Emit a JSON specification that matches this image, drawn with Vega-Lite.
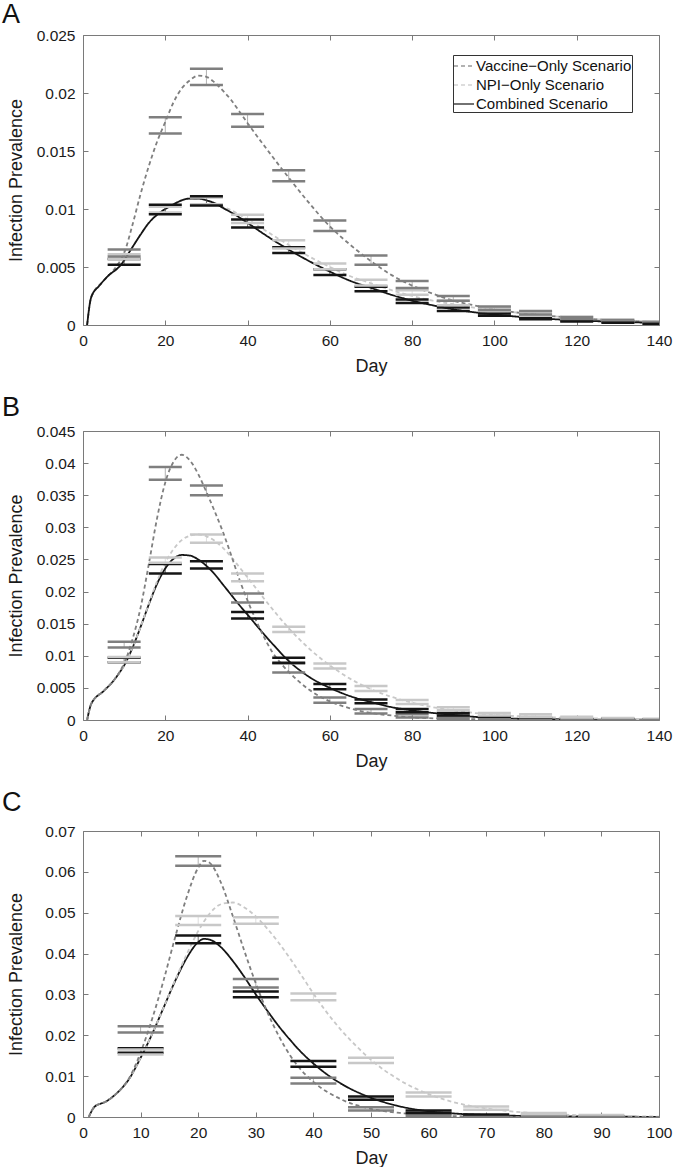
{
  "$schema": "https://vega.github.io/schema/vega-lite/v6.json",
  "background": "white",
  "padding": {"left": 1, "top": 0, "right": 0, "bottom": 0},
  "spacing": 17,
  "config": {
    "font": "Liberation Sans",
    "view": {"stroke": "#7a7a7a", "strokeWidth": 1},
    "axis": {"domain": false, "grid": false, "ticks": true, "tickSize": 5, "offset": -5, "tickColor": "#7a7a7a", "tickWidth": 1, "labelPadding": 8, "labelFontSize": 15.5, "labelColor": "#1a1a1a", "labelFont": "Liberation Sans", "labelFlush": false, "labelOverlap": false, "titleFontSize": 18, "titleFontWeight": "normal", "titleColor": "#1a1a1a", "titleFont": "Liberation Sans"},
    "axisX": {"titlePadding": 9},
    "axisY": {"titleX": -67, "titleBaseline": "alphabetic"},
    "tick": {"opacity": 1},
    "title": {"fontSize": 27, "fontWeight": "normal", "anchor": "start", "frame": "bounds", "color": "#111111", "font": "Liberation Sans"}
  },
  "resolve": {"scale": {"color": "independent", "strokeDash": "independent", "x": "independent", "y": "independent"}},
  "datasets": {
    "lineA": [
      {"scenario": "NPI−Only Scenario", "day": 1, "prev": 0}, {"scenario": "NPI−Only Scenario", "day": 2, "prev": 0.0024}, {"scenario": "NPI−Only Scenario", "day": 4, "prev": 0.0034}, {"scenario": "NPI−Only Scenario", "day": 6, "prev": 0.0042}, {"scenario": "NPI−Only Scenario", "day": 9, "prev": 0.0051}, {"scenario": "NPI−Only Scenario", "day": 12, "prev": 0.0067}, {"scenario": "NPI−Only Scenario", "day": 14, "prev": 0.0078}, {"scenario": "NPI−Only Scenario", "day": 16, "prev": 0.0088}, {"scenario": "NPI−Only Scenario", "day": 18, "prev": 0.0095}, {"scenario": "NPI−Only Scenario", "day": 20, "prev": 0.01}, {"scenario": "NPI−Only Scenario", "day": 22, "prev": 0.0104}, {"scenario": "NPI−Only Scenario", "day": 24, "prev": 0.01075}, {"scenario": "NPI−Only Scenario", "day": 26, "prev": 0.0109}, {"scenario": "NPI−Only Scenario", "day": 28, "prev": 0.0109}, {"scenario": "NPI−Only Scenario", "day": 30, "prev": 0.01075}, {"scenario": "NPI−Only Scenario", "day": 32, "prev": 0.0105}, {"scenario": "NPI−Only Scenario", "day": 34, "prev": 0.0102}, {"scenario": "NPI−Only Scenario", "day": 36, "prev": 0.0099}, {"scenario": "NPI−Only Scenario", "day": 40, "prev": 0.0091}, {"scenario": "NPI−Only Scenario", "day": 45, "prev": 0.008}, {"scenario": "NPI−Only Scenario", "day": 50, "prev": 0.0069}, {"scenario": "NPI−Only Scenario", "day": 55, "prev": 0.0059}, {"scenario": "NPI−Only Scenario", "day": 60, "prev": 0.005}, {"scenario": "NPI−Only Scenario", "day": 65, "prev": 0.0042}, {"scenario": "NPI−Only Scenario", "day": 70, "prev": 0.0036}, {"scenario": "NPI−Only Scenario", "day": 75, "prev": 0.003}, {"scenario": "NPI−Only Scenario", "day": 80, "prev": 0.0025}, {"scenario": "NPI−Only Scenario", "day": 85, "prev": 0.0021}, {"scenario": "NPI−Only Scenario", "day": 90, "prev": 0.0018}, {"scenario": "NPI−Only Scenario", "day": 95, "prev": 0.0015}, {"scenario": "NPI−Only Scenario", "day": 100, "prev": 0.0013}, {"scenario": "NPI−Only Scenario", "day": 110, "prev": 0.0009}, {"scenario": "NPI−Only Scenario", "day": 120, "prev": 0.0006}, {"scenario": "NPI−Only Scenario", "day": 130, "prev": 0.0004}, {"scenario": "NPI−Only Scenario", "day": 140, "prev": 0.0003},
      {"scenario": "Vaccine−Only Scenario", "day": 1, "prev": 0}, {"scenario": "Vaccine−Only Scenario", "day": 2, "prev": 0.0024}, {"scenario": "Vaccine−Only Scenario", "day": 5, "prev": 0.0038}, {"scenario": "Vaccine−Only Scenario", "day": 8, "prev": 0.005}, {"scenario": "Vaccine−Only Scenario", "day": 10, "prev": 0.0062}, {"scenario": "Vaccine−Only Scenario", "day": 12, "prev": 0.0086}, {"scenario": "Vaccine−Only Scenario", "day": 14, "prev": 0.0113}, {"scenario": "Vaccine−Only Scenario", "day": 16, "prev": 0.0137}, {"scenario": "Vaccine−Only Scenario", "day": 18, "prev": 0.0158}, {"scenario": "Vaccine−Only Scenario", "day": 20, "prev": 0.0175}, {"scenario": "Vaccine−Only Scenario", "day": 22, "prev": 0.0192}, {"scenario": "Vaccine−Only Scenario", "day": 24, "prev": 0.0204}, {"scenario": "Vaccine−Only Scenario", "day": 26, "prev": 0.0211}, {"scenario": "Vaccine−Only Scenario", "day": 28, "prev": 0.0215}, {"scenario": "Vaccine−Only Scenario", "day": 30, "prev": 0.0214}, {"scenario": "Vaccine−Only Scenario", "day": 32, "prev": 0.0209}, {"scenario": "Vaccine−Only Scenario", "day": 34, "prev": 0.0202}, {"scenario": "Vaccine−Only Scenario", "day": 36, "prev": 0.0194}, {"scenario": "Vaccine−Only Scenario", "day": 38, "prev": 0.0184}, {"scenario": "Vaccine−Only Scenario", "day": 40, "prev": 0.0174}, {"scenario": "Vaccine−Only Scenario", "day": 45, "prev": 0.015}, {"scenario": "Vaccine−Only Scenario", "day": 50, "prev": 0.0127}, {"scenario": "Vaccine−Only Scenario", "day": 55, "prev": 0.0105}, {"scenario": "Vaccine−Only Scenario", "day": 60, "prev": 0.0085}, {"scenario": "Vaccine−Only Scenario", "day": 65, "prev": 0.0069}, {"scenario": "Vaccine−Only Scenario", "day": 70, "prev": 0.0055}, {"scenario": "Vaccine−Only Scenario", "day": 75, "prev": 0.0043}, {"scenario": "Vaccine−Only Scenario", "day": 80, "prev": 0.0034}, {"scenario": "Vaccine−Only Scenario", "day": 85, "prev": 0.0027}, {"scenario": "Vaccine−Only Scenario", "day": 90, "prev": 0.0021}, {"scenario": "Vaccine−Only Scenario", "day": 95, "prev": 0.0017}, {"scenario": "Vaccine−Only Scenario", "day": 100, "prev": 0.00135}, {"scenario": "Vaccine−Only Scenario", "day": 110, "prev": 0.0009}, {"scenario": "Vaccine−Only Scenario", "day": 120, "prev": 0.0006}, {"scenario": "Vaccine−Only Scenario", "day": 130, "prev": 0.0004}, {"scenario": "Vaccine−Only Scenario", "day": 140, "prev": 0.00025},
      {"scenario": "Combined Scenario", "day": 1, "prev": 0}, {"scenario": "Combined Scenario", "day": 2, "prev": 0.0024}, {"scenario": "Combined Scenario", "day": 4, "prev": 0.0034}, {"scenario": "Combined Scenario", "day": 6, "prev": 0.0042}, {"scenario": "Combined Scenario", "day": 9, "prev": 0.0051}, {"scenario": "Combined Scenario", "day": 12, "prev": 0.0067}, {"scenario": "Combined Scenario", "day": 14, "prev": 0.0078}, {"scenario": "Combined Scenario", "day": 16, "prev": 0.0088}, {"scenario": "Combined Scenario", "day": 18, "prev": 0.0095}, {"scenario": "Combined Scenario", "day": 20, "prev": 0.01}, {"scenario": "Combined Scenario", "day": 22, "prev": 0.0104}, {"scenario": "Combined Scenario", "day": 24, "prev": 0.01075}, {"scenario": "Combined Scenario", "day": 26, "prev": 0.0109}, {"scenario": "Combined Scenario", "day": 28, "prev": 0.0109}, {"scenario": "Combined Scenario", "day": 30, "prev": 0.01075}, {"scenario": "Combined Scenario", "day": 32, "prev": 0.0105}, {"scenario": "Combined Scenario", "day": 34, "prev": 0.0101}, {"scenario": "Combined Scenario", "day": 37, "prev": 0.0095}, {"scenario": "Combined Scenario", "day": 40, "prev": 0.0088}, {"scenario": "Combined Scenario", "day": 45, "prev": 0.0076}, {"scenario": "Combined Scenario", "day": 50, "prev": 0.0065}, {"scenario": "Combined Scenario", "day": 55, "prev": 0.0055}, {"scenario": "Combined Scenario", "day": 60, "prev": 0.0046}, {"scenario": "Combined Scenario", "day": 65, "prev": 0.0038}, {"scenario": "Combined Scenario", "day": 70, "prev": 0.0032}, {"scenario": "Combined Scenario", "day": 75, "prev": 0.0026}, {"scenario": "Combined Scenario", "day": 80, "prev": 0.0021}, {"scenario": "Combined Scenario", "day": 85, "prev": 0.0017}, {"scenario": "Combined Scenario", "day": 90, "prev": 0.00135}, {"scenario": "Combined Scenario", "day": 95, "prev": 0.0011}, {"scenario": "Combined Scenario", "day": 100, "prev": 0.0009}, {"scenario": "Combined Scenario", "day": 110, "prev": 0.0006}, {"scenario": "Combined Scenario", "day": 120, "prev": 0.0004}, {"scenario": "Combined Scenario", "day": 130, "prev": 0.00027}, {"scenario": "Combined Scenario", "day": 140, "prev": 0.00018}
    ],
    "barA": [
      {"scenario": "NPI−Only Scenario", "day": 10, "lo": 0.0057, "hi": 0.0061}, {"scenario": "NPI−Only Scenario", "day": 20, "lo": 0.0097, "hi": 0.0102}, {"scenario": "NPI−Only Scenario", "day": 30, "lo": 0.0104, "hi": 0.011}, {"scenario": "NPI−Only Scenario", "day": 40, "lo": 0.0088, "hi": 0.0095}, {"scenario": "NPI−Only Scenario", "day": 50, "lo": 0.0066, "hi": 0.0073}, {"scenario": "NPI−Only Scenario", "day": 60, "lo": 0.0048, "hi": 0.0053}, {"scenario": "NPI−Only Scenario", "day": 70, "lo": 0.0034, "hi": 0.0039}, {"scenario": "NPI−Only Scenario", "day": 80, "lo": 0.0026, "hi": 0.003}, {"scenario": "NPI−Only Scenario", "day": 90, "lo": 0.0017, "hi": 0.0021}, {"scenario": "NPI−Only Scenario", "day": 100, "lo": 0.0012, "hi": 0.0015}, {"scenario": "NPI−Only Scenario", "day": 110, "lo": 0.0008, "hi": 0.0011}, {"scenario": "NPI−Only Scenario", "day": 120, "lo": 0.0005, "hi": 0.0007}, {"scenario": "NPI−Only Scenario", "day": 130, "lo": 0.0003, "hi": 0.0005}, {"scenario": "NPI−Only Scenario", "day": 140, "lo": 0.0002, "hi": 0.0003},
      {"scenario": "Vaccine−Only Scenario", "day": 10, "lo": 0.0059, "hi": 0.0065}, {"scenario": "Vaccine−Only Scenario", "day": 20, "lo": 0.0165, "hi": 0.0179}, {"scenario": "Vaccine−Only Scenario", "day": 30, "lo": 0.0207, "hi": 0.0221}, {"scenario": "Vaccine−Only Scenario", "day": 40, "lo": 0.0171, "hi": 0.0182}, {"scenario": "Vaccine−Only Scenario", "day": 50, "lo": 0.0124, "hi": 0.01335}, {"scenario": "Vaccine−Only Scenario", "day": 60, "lo": 0.0081, "hi": 0.009}, {"scenario": "Vaccine−Only Scenario", "day": 70, "lo": 0.0052, "hi": 0.006}, {"scenario": "Vaccine−Only Scenario", "day": 80, "lo": 0.0032, "hi": 0.0038}, {"scenario": "Vaccine−Only Scenario", "day": 90, "lo": 0.0021, "hi": 0.0025}, {"scenario": "Vaccine−Only Scenario", "day": 100, "lo": 0.0013, "hi": 0.0016}, {"scenario": "Vaccine−Only Scenario", "day": 110, "lo": 0.0009, "hi": 0.0012}, {"scenario": "Vaccine−Only Scenario", "day": 120, "lo": 0.0005, "hi": 0.0007}, {"scenario": "Vaccine−Only Scenario", "day": 130, "lo": 0.0003, "hi": 0.0004}, {"scenario": "Vaccine−Only Scenario", "day": 140, "lo": 0.0001, "hi": 0.00025},
      {"scenario": "Combined Scenario", "day": 10, "lo": 0.0052, "hi": 0.0057}, {"scenario": "Combined Scenario", "day": 20, "lo": 0.00955, "hi": 0.01036}, {"scenario": "Combined Scenario", "day": 30, "lo": 0.0103, "hi": 0.0111}, {"scenario": "Combined Scenario", "day": 40, "lo": 0.0084, "hi": 0.0091}, {"scenario": "Combined Scenario", "day": 50, "lo": 0.0062, "hi": 0.0067}, {"scenario": "Combined Scenario", "day": 60, "lo": 0.0043, "hi": 0.0048}, {"scenario": "Combined Scenario", "day": 70, "lo": 0.0029, "hi": 0.0033}, {"scenario": "Combined Scenario", "day": 80, "lo": 0.0019, "hi": 0.0022}, {"scenario": "Combined Scenario", "day": 90, "lo": 0.0012, "hi": 0.0015}, {"scenario": "Combined Scenario", "day": 100, "lo": 0.0008, "hi": 0.001}, {"scenario": "Combined Scenario", "day": 110, "lo": 0.0005, "hi": 0.0006}, {"scenario": "Combined Scenario", "day": 120, "lo": 0.0003, "hi": 0.0004}, {"scenario": "Combined Scenario", "day": 130, "lo": 0.0002, "hi": 0.0003}, {"scenario": "Combined Scenario", "day": 140, "lo": 0.0001, "hi": 0.0002}
    ],
    "lineB": [
      {"scenario": "Combined Scenario", "day": 1, "prev": 0}, {"scenario": "Combined Scenario", "day": 2, "prev": 0.0025}, {"scenario": "Combined Scenario", "day": 5, "prev": 0.0045}, {"scenario": "Combined Scenario", "day": 7, "prev": 0.0058}, {"scenario": "Combined Scenario", "day": 9, "prev": 0.0075}, {"scenario": "Combined Scenario", "day": 10, "prev": 0.0085}, {"scenario": "Combined Scenario", "day": 12, "prev": 0.0112}, {"scenario": "Combined Scenario", "day": 14, "prev": 0.0145}, {"scenario": "Combined Scenario", "day": 16, "prev": 0.018}, {"scenario": "Combined Scenario", "day": 18, "prev": 0.0212}, {"scenario": "Combined Scenario", "day": 20, "prev": 0.0236}, {"scenario": "Combined Scenario", "day": 22, "prev": 0.0251}, {"scenario": "Combined Scenario", "day": 24, "prev": 0.0257}, {"scenario": "Combined Scenario", "day": 26, "prev": 0.0256}, {"scenario": "Combined Scenario", "day": 28, "prev": 0.025}, {"scenario": "Combined Scenario", "day": 30, "prev": 0.024}, {"scenario": "Combined Scenario", "day": 32, "prev": 0.0227}, {"scenario": "Combined Scenario", "day": 34, "prev": 0.0211}, {"scenario": "Combined Scenario", "day": 36, "prev": 0.0195}, {"scenario": "Combined Scenario", "day": 38, "prev": 0.0179}, {"scenario": "Combined Scenario", "day": 40, "prev": 0.0164}, {"scenario": "Combined Scenario", "day": 43, "prev": 0.0141}, {"scenario": "Combined Scenario", "day": 46, "prev": 0.0119}, {"scenario": "Combined Scenario", "day": 50, "prev": 0.0092}, {"scenario": "Combined Scenario", "day": 55, "prev": 0.0067}, {"scenario": "Combined Scenario", "day": 60, "prev": 0.005}, {"scenario": "Combined Scenario", "day": 65, "prev": 0.0037}, {"scenario": "Combined Scenario", "day": 70, "prev": 0.0028}, {"scenario": "Combined Scenario", "day": 75, "prev": 0.002}, {"scenario": "Combined Scenario", "day": 80, "prev": 0.0015}, {"scenario": "Combined Scenario", "day": 85, "prev": 0.0011}, {"scenario": "Combined Scenario", "day": 90, "prev": 0.0008}, {"scenario": "Combined Scenario", "day": 95, "prev": 0.0005}, {"scenario": "Combined Scenario", "day": 100, "prev": 0.0003}, {"scenario": "Combined Scenario", "day": 110, "prev": 0.00015}, {"scenario": "Combined Scenario", "day": 120, "prev": 0.0001}, {"scenario": "Combined Scenario", "day": 130, "prev": 0.00005}, {"scenario": "Combined Scenario", "day": 140, "prev": 0.00003},
      {"scenario": "NPI−Only Scenario", "day": 1, "prev": 0}, {"scenario": "NPI−Only Scenario", "day": 2, "prev": 0.0025}, {"scenario": "NPI−Only Scenario", "day": 5, "prev": 0.0045}, {"scenario": "NPI−Only Scenario", "day": 7, "prev": 0.0058}, {"scenario": "NPI−Only Scenario", "day": 9, "prev": 0.0075}, {"scenario": "NPI−Only Scenario", "day": 10, "prev": 0.0085}, {"scenario": "NPI−Only Scenario", "day": 12, "prev": 0.0112}, {"scenario": "NPI−Only Scenario", "day": 14, "prev": 0.0145}, {"scenario": "NPI−Only Scenario", "day": 16, "prev": 0.0181}, {"scenario": "NPI−Only Scenario", "day": 18, "prev": 0.0216}, {"scenario": "NPI−Only Scenario", "day": 20, "prev": 0.0245}, {"scenario": "NPI−Only Scenario", "day": 22, "prev": 0.0266}, {"scenario": "NPI−Only Scenario", "day": 24, "prev": 0.028}, {"scenario": "NPI−Only Scenario", "day": 26, "prev": 0.0287}, {"scenario": "NPI−Only Scenario", "day": 28, "prev": 0.0289}, {"scenario": "NPI−Only Scenario", "day": 30, "prev": 0.0286}, {"scenario": "NPI−Only Scenario", "day": 32, "prev": 0.0279}, {"scenario": "NPI−Only Scenario", "day": 34, "prev": 0.0268}, {"scenario": "NPI−Only Scenario", "day": 36, "prev": 0.0254}, {"scenario": "NPI−Only Scenario", "day": 38, "prev": 0.0238}, {"scenario": "NPI−Only Scenario", "day": 40, "prev": 0.0222}, {"scenario": "NPI−Only Scenario", "day": 45, "prev": 0.0181}, {"scenario": "NPI−Only Scenario", "day": 50, "prev": 0.0143}, {"scenario": "NPI−Only Scenario", "day": 55, "prev": 0.0111}, {"scenario": "NPI−Only Scenario", "day": 60, "prev": 0.0085}, {"scenario": "NPI−Only Scenario", "day": 65, "prev": 0.0064}, {"scenario": "NPI−Only Scenario", "day": 70, "prev": 0.0048}, {"scenario": "NPI−Only Scenario", "day": 75, "prev": 0.0036}, {"scenario": "NPI−Only Scenario", "day": 80, "prev": 0.0027}, {"scenario": "NPI−Only Scenario", "day": 85, "prev": 0.002}, {"scenario": "NPI−Only Scenario", "day": 90, "prev": 0.0015}, {"scenario": "NPI−Only Scenario", "day": 95, "prev": 0.0011}, {"scenario": "NPI−Only Scenario", "day": 100, "prev": 0.0008}, {"scenario": "NPI−Only Scenario", "day": 110, "prev": 0.0005}, {"scenario": "NPI−Only Scenario", "day": 120, "prev": 0.0003}, {"scenario": "NPI−Only Scenario", "day": 130, "prev": 0.0002}, {"scenario": "NPI−Only Scenario", "day": 140, "prev": 0.0001},
      {"scenario": "Vaccine−Only Scenario", "day": 1, "prev": 0}, {"scenario": "Vaccine−Only Scenario", "day": 2, "prev": 0.0025}, {"scenario": "Vaccine−Only Scenario", "day": 5, "prev": 0.0045}, {"scenario": "Vaccine−Only Scenario", "day": 7, "prev": 0.0058}, {"scenario": "Vaccine−Only Scenario", "day": 9, "prev": 0.0076}, {"scenario": "Vaccine−Only Scenario", "day": 10, "prev": 0.0088}, {"scenario": "Vaccine−Only Scenario", "day": 12, "prev": 0.0125}, {"scenario": "Vaccine−Only Scenario", "day": 14, "prev": 0.0175}, {"scenario": "Vaccine−Only Scenario", "day": 16, "prev": 0.0243}, {"scenario": "Vaccine−Only Scenario", "day": 18, "prev": 0.0314}, {"scenario": "Vaccine−Only Scenario", "day": 20, "prev": 0.037}, {"scenario": "Vaccine−Only Scenario", "day": 22, "prev": 0.0402}, {"scenario": "Vaccine−Only Scenario", "day": 24, "prev": 0.0413}, {"scenario": "Vaccine−Only Scenario", "day": 26, "prev": 0.0404}, {"scenario": "Vaccine−Only Scenario", "day": 28, "prev": 0.0383}, {"scenario": "Vaccine−Only Scenario", "day": 30, "prev": 0.0355}, {"scenario": "Vaccine−Only Scenario", "day": 32, "prev": 0.0325}, {"scenario": "Vaccine−Only Scenario", "day": 34, "prev": 0.0293}, {"scenario": "Vaccine−Only Scenario", "day": 36, "prev": 0.0257}, {"scenario": "Vaccine−Only Scenario", "day": 38, "prev": 0.0219}, {"scenario": "Vaccine−Only Scenario", "day": 40, "prev": 0.0186}, {"scenario": "Vaccine−Only Scenario", "day": 42, "prev": 0.0156}, {"scenario": "Vaccine−Only Scenario", "day": 44, "prev": 0.0129}, {"scenario": "Vaccine−Only Scenario", "day": 46, "prev": 0.0106}, {"scenario": "Vaccine−Only Scenario", "day": 48, "prev": 0.0089}, {"scenario": "Vaccine−Only Scenario", "day": 50, "prev": 0.0075}, {"scenario": "Vaccine−Only Scenario", "day": 55, "prev": 0.0047}, {"scenario": "Vaccine−Only Scenario", "day": 60, "prev": 0.0029}, {"scenario": "Vaccine−Only Scenario", "day": 65, "prev": 0.0018}, {"scenario": "Vaccine−Only Scenario", "day": 70, "prev": 0.0011}, {"scenario": "Vaccine−Only Scenario", "day": 75, "prev": 0.0007}, {"scenario": "Vaccine−Only Scenario", "day": 80, "prev": 0.0004}, {"scenario": "Vaccine−Only Scenario", "day": 90, "prev": 0.0002}, {"scenario": "Vaccine−Only Scenario", "day": 100, "prev": 0.0001}, {"scenario": "Vaccine−Only Scenario", "day": 120, "prev": 0.00003}, {"scenario": "Vaccine−Only Scenario", "day": 140, "prev": 0}
    ],
    "barB": [
      {"scenario": "Combined Scenario", "day": 10, "lo": 0.009, "hi": 0.0097}, {"scenario": "Combined Scenario", "day": 20, "lo": 0.0228, "hi": 0.0243}, {"scenario": "Combined Scenario", "day": 30, "lo": 0.0236, "hi": 0.0247}, {"scenario": "Combined Scenario", "day": 40, "lo": 0.0158, "hi": 0.0168}, {"scenario": "Combined Scenario", "day": 50, "lo": 0.0089, "hi": 0.0097}, {"scenario": "Combined Scenario", "day": 60, "lo": 0.0048, "hi": 0.0056}, {"scenario": "Combined Scenario", "day": 70, "lo": 0.0026, "hi": 0.0032}, {"scenario": "Combined Scenario", "day": 80, "lo": 0.0012, "hi": 0.0017}, {"scenario": "Combined Scenario", "day": 90, "lo": 0.0007, "hi": 0.0011}, {"scenario": "Combined Scenario", "day": 100, "lo": 0.0004, "hi": 0.0006}, {"scenario": "Combined Scenario", "day": 110, "lo": 0.0002, "hi": 0.0004}, {"scenario": "Combined Scenario", "day": 120, "lo": 0.0001, "hi": 0.0002}, {"scenario": "Combined Scenario", "day": 130, "lo": 0.0001, "hi": 0.0002}, {"scenario": "Combined Scenario", "day": 140, "lo": 0.00005, "hi": 0.0001},
      {"scenario": "NPI−Only Scenario", "day": 10, "lo": 0.009, "hi": 0.0098}, {"scenario": "NPI−Only Scenario", "day": 20, "lo": 0.0245, "hi": 0.0253}, {"scenario": "NPI−Only Scenario", "day": 30, "lo": 0.0276, "hi": 0.0289}, {"scenario": "NPI−Only Scenario", "day": 40, "lo": 0.0216, "hi": 0.0228}, {"scenario": "NPI−Only Scenario", "day": 50, "lo": 0.0137, "hi": 0.01453}, {"scenario": "NPI−Only Scenario", "day": 60, "lo": 0.008, "hi": 0.0088}, {"scenario": "NPI−Only Scenario", "day": 70, "lo": 0.0045, "hi": 0.0053}, {"scenario": "NPI−Only Scenario", "day": 80, "lo": 0.0025, "hi": 0.0031}, {"scenario": "NPI−Only Scenario", "day": 90, "lo": 0.0015, "hi": 0.002}, {"scenario": "NPI−Only Scenario", "day": 100, "lo": 0.0007, "hi": 0.0011}, {"scenario": "NPI−Only Scenario", "day": 110, "lo": 0.0005, "hi": 0.0009}, {"scenario": "NPI−Only Scenario", "day": 120, "lo": 0.0003, "hi": 0.0005}, {"scenario": "NPI−Only Scenario", "day": 130, "lo": 0.0001, "hi": 0.0003}, {"scenario": "NPI−Only Scenario", "day": 140, "lo": 0.0001, "hi": 0.0002},
      {"scenario": "Vaccine−Only Scenario", "day": 10, "lo": 0.0113, "hi": 0.0122}, {"scenario": "Vaccine−Only Scenario", "day": 20, "lo": 0.0374, "hi": 0.0394}, {"scenario": "Vaccine−Only Scenario", "day": 30, "lo": 0.035, "hi": 0.0365}, {"scenario": "Vaccine−Only Scenario", "day": 40, "lo": 0.0183, "hi": 0.0197}, {"scenario": "Vaccine−Only Scenario", "day": 50, "lo": 0.0074, "hi": 0.0088}, {"scenario": "Vaccine−Only Scenario", "day": 60, "lo": 0.0027, "hi": 0.0035}, {"scenario": "Vaccine−Only Scenario", "day": 70, "lo": 0.001, "hi": 0.0017}, {"scenario": "Vaccine−Only Scenario", "day": 80, "lo": 0.0004, "hi": 0.0009}, {"scenario": "Vaccine−Only Scenario", "day": 90, "lo": 0.0002, "hi": 0.0005}, {"scenario": "Vaccine−Only Scenario", "day": 100, "lo": 0.0001, "hi": 0.0003}, {"scenario": "Vaccine−Only Scenario", "day": 110, "lo": 0.00005, "hi": 0.0002}, {"scenario": "Vaccine−Only Scenario", "day": 120, "lo": 0, "hi": 0.0001}, {"scenario": "Vaccine−Only Scenario", "day": 130, "lo": 0, "hi": 0.00005}, {"scenario": "Vaccine−Only Scenario", "day": 140, "lo": 0, "hi": 0.00003}
    ],
    "lineC": [
      {"scenario": "Combined Scenario", "day": 1, "prev": 0}, {"scenario": "Combined Scenario", "day": 2, "prev": 0.0025}, {"scenario": "Combined Scenario", "day": 4, "prev": 0.0038}, {"scenario": "Combined Scenario", "day": 6, "prev": 0.006}, {"scenario": "Combined Scenario", "day": 8, "prev": 0.0093}, {"scenario": "Combined Scenario", "day": 10, "prev": 0.0145}, {"scenario": "Combined Scenario", "day": 12, "prev": 0.0203}, {"scenario": "Combined Scenario", "day": 14, "prev": 0.0268}, {"scenario": "Combined Scenario", "day": 16, "prev": 0.0333}, {"scenario": "Combined Scenario", "day": 18, "prev": 0.0389}, {"scenario": "Combined Scenario", "day": 20, "prev": 0.0428}, {"scenario": "Combined Scenario", "day": 21, "prev": 0.0436}, {"scenario": "Combined Scenario", "day": 22, "prev": 0.0434}, {"scenario": "Combined Scenario", "day": 24, "prev": 0.0415}, {"scenario": "Combined Scenario", "day": 26, "prev": 0.0382}, {"scenario": "Combined Scenario", "day": 28, "prev": 0.0343}, {"scenario": "Combined Scenario", "day": 30, "prev": 0.03}, {"scenario": "Combined Scenario", "day": 32, "prev": 0.026}, {"scenario": "Combined Scenario", "day": 34, "prev": 0.0222}, {"scenario": "Combined Scenario", "day": 36, "prev": 0.0188}, {"scenario": "Combined Scenario", "day": 38, "prev": 0.0157}, {"scenario": "Combined Scenario", "day": 40, "prev": 0.0131}, {"scenario": "Combined Scenario", "day": 42, "prev": 0.0108}, {"scenario": "Combined Scenario", "day": 45, "prev": 0.008}, {"scenario": "Combined Scenario", "day": 50, "prev": 0.0047}, {"scenario": "Combined Scenario", "day": 55, "prev": 0.0026}, {"scenario": "Combined Scenario", "day": 60, "prev": 0.0014}, {"scenario": "Combined Scenario", "day": 65, "prev": 0.0008}, {"scenario": "Combined Scenario", "day": 70, "prev": 0.0005}, {"scenario": "Combined Scenario", "day": 75, "prev": 0.0003}, {"scenario": "Combined Scenario", "day": 80, "prev": 0.0002}, {"scenario": "Combined Scenario", "day": 90, "prev": 0.0001}, {"scenario": "Combined Scenario", "day": 100, "prev": 0.00003},
      {"scenario": "NPI−Only Scenario", "day": 1, "prev": 0}, {"scenario": "NPI−Only Scenario", "day": 2, "prev": 0.0025}, {"scenario": "NPI−Only Scenario", "day": 4, "prev": 0.0038}, {"scenario": "NPI−Only Scenario", "day": 6, "prev": 0.006}, {"scenario": "NPI−Only Scenario", "day": 8, "prev": 0.0093}, {"scenario": "NPI−Only Scenario", "day": 10, "prev": 0.0145}, {"scenario": "NPI−Only Scenario", "day": 12, "prev": 0.0203}, {"scenario": "NPI−Only Scenario", "day": 14, "prev": 0.0268}, {"scenario": "NPI−Only Scenario", "day": 16, "prev": 0.0335}, {"scenario": "NPI−Only Scenario", "day": 18, "prev": 0.0398}, {"scenario": "NPI−Only Scenario", "day": 20, "prev": 0.0455}, {"scenario": "NPI−Only Scenario", "day": 22, "prev": 0.0498}, {"scenario": "NPI−Only Scenario", "day": 24, "prev": 0.0521}, {"scenario": "NPI−Only Scenario", "day": 26, "prev": 0.0525}, {"scenario": "NPI−Only Scenario", "day": 28, "prev": 0.0513}, {"scenario": "NPI−Only Scenario", "day": 30, "prev": 0.0491}, {"scenario": "NPI−Only Scenario", "day": 32, "prev": 0.0461}, {"scenario": "NPI−Only Scenario", "day": 34, "prev": 0.0426}, {"scenario": "NPI−Only Scenario", "day": 36, "prev": 0.0387}, {"scenario": "NPI−Only Scenario", "day": 38, "prev": 0.0345}, {"scenario": "NPI−Only Scenario", "day": 40, "prev": 0.0302}, {"scenario": "NPI−Only Scenario", "day": 42, "prev": 0.0262}, {"scenario": "NPI−Only Scenario", "day": 45, "prev": 0.021}, {"scenario": "NPI−Only Scenario", "day": 48, "prev": 0.0166}, {"scenario": "NPI−Only Scenario", "day": 50, "prev": 0.014}, {"scenario": "NPI−Only Scenario", "day": 55, "prev": 0.009}, {"scenario": "NPI−Only Scenario", "day": 60, "prev": 0.0056}, {"scenario": "NPI−Only Scenario", "day": 65, "prev": 0.0034}, {"scenario": "NPI−Only Scenario", "day": 70, "prev": 0.0021}, {"scenario": "NPI−Only Scenario", "day": 75, "prev": 0.0013}, {"scenario": "NPI−Only Scenario", "day": 80, "prev": 0.0008}, {"scenario": "NPI−Only Scenario", "day": 85, "prev": 0.0005}, {"scenario": "NPI−Only Scenario", "day": 90, "prev": 0.0003}, {"scenario": "NPI−Only Scenario", "day": 95, "prev": 0.0002}, {"scenario": "NPI−Only Scenario", "day": 100, "prev": 0.0001},
      {"scenario": "Vaccine−Only Scenario", "day": 1, "prev": 0}, {"scenario": "Vaccine−Only Scenario", "day": 2, "prev": 0.0025}, {"scenario": "Vaccine−Only Scenario", "day": 4, "prev": 0.0038}, {"scenario": "Vaccine−Only Scenario", "day": 6, "prev": 0.006}, {"scenario": "Vaccine−Only Scenario", "day": 8, "prev": 0.0095}, {"scenario": "Vaccine−Only Scenario", "day": 10, "prev": 0.0158}, {"scenario": "Vaccine−Only Scenario", "day": 12, "prev": 0.024}, {"scenario": "Vaccine−Only Scenario", "day": 14, "prev": 0.0335}, {"scenario": "Vaccine−Only Scenario", "day": 16, "prev": 0.044}, {"scenario": "Vaccine−Only Scenario", "day": 18, "prev": 0.0538}, {"scenario": "Vaccine−Only Scenario", "day": 20, "prev": 0.061}, {"scenario": "Vaccine−Only Scenario", "day": 21, "prev": 0.0627}, {"scenario": "Vaccine−Only Scenario", "day": 22, "prev": 0.0622}, {"scenario": "Vaccine−Only Scenario", "day": 24, "prev": 0.0572}, {"scenario": "Vaccine−Only Scenario", "day": 26, "prev": 0.0492}, {"scenario": "Vaccine−Only Scenario", "day": 28, "prev": 0.0407}, {"scenario": "Vaccine−Only Scenario", "day": 30, "prev": 0.0327}, {"scenario": "Vaccine−Only Scenario", "day": 32, "prev": 0.0257}, {"scenario": "Vaccine−Only Scenario", "day": 34, "prev": 0.0198}, {"scenario": "Vaccine−Only Scenario", "day": 36, "prev": 0.015}, {"scenario": "Vaccine−Only Scenario", "day": 38, "prev": 0.0113}, {"scenario": "Vaccine−Only Scenario", "day": 40, "prev": 0.0086}, {"scenario": "Vaccine−Only Scenario", "day": 45, "prev": 0.0042}, {"scenario": "Vaccine−Only Scenario", "day": 50, "prev": 0.002}, {"scenario": "Vaccine−Only Scenario", "day": 55, "prev": 0.001}, {"scenario": "Vaccine−Only Scenario", "day": 60, "prev": 0.0005}, {"scenario": "Vaccine−Only Scenario", "day": 65, "prev": 0.0002}, {"scenario": "Vaccine−Only Scenario", "day": 70, "prev": 0.0001}, {"scenario": "Vaccine−Only Scenario", "day": 80, "prev": 0.00003}, {"scenario": "Vaccine−Only Scenario", "day": 100, "prev": 0}
    ],
    "barC": [
      {"scenario": "Combined Scenario", "day": 10, "lo": 0.0157, "hi": 0.0168}, {"scenario": "Combined Scenario", "day": 20, "lo": 0.0425, "hi": 0.0444}, {"scenario": "Combined Scenario", "day": 30, "lo": 0.0293, "hi": 0.0307}, {"scenario": "Combined Scenario", "day": 40, "lo": 0.0123, "hi": 0.0137}, {"scenario": "Combined Scenario", "day": 50, "lo": 0.0042, "hi": 0.005}, {"scenario": "Combined Scenario", "day": 60, "lo": 0.001, "hi": 0.0016}, {"scenario": "Combined Scenario", "day": 70, "lo": 0.0003, "hi": 0.0006}, {"scenario": "Combined Scenario", "day": 80, "lo": 0.0001, "hi": 0.0003}, {"scenario": "Combined Scenario", "day": 90, "lo": 0, "hi": 0.0001},
      {"scenario": "NPI−Only Scenario", "day": 10, "lo": 0.0153, "hi": 0.0165}, {"scenario": "NPI−Only Scenario", "day": 20, "lo": 0.047, "hi": 0.0492}, {"scenario": "NPI−Only Scenario", "day": 30, "lo": 0.0473, "hi": 0.0489}, {"scenario": "NPI−Only Scenario", "day": 40, "lo": 0.0286, "hi": 0.0302}, {"scenario": "NPI−Only Scenario", "day": 50, "lo": 0.0132, "hi": 0.0145}, {"scenario": "NPI−Only Scenario", "day": 60, "lo": 0.005, "hi": 0.006}, {"scenario": "NPI−Only Scenario", "day": 70, "lo": 0.0018, "hi": 0.0026}, {"scenario": "NPI−Only Scenario", "day": 80, "lo": 0.0006, "hi": 0.001}, {"scenario": "NPI−Only Scenario", "day": 90, "lo": 0.0002, "hi": 0.0005},
      {"scenario": "Vaccine−Only Scenario", "day": 10, "lo": 0.0207, "hi": 0.0222}, {"scenario": "Vaccine−Only Scenario", "day": 20, "lo": 0.0615, "hi": 0.0638}, {"scenario": "Vaccine−Only Scenario", "day": 30, "lo": 0.0317, "hi": 0.0338}, {"scenario": "Vaccine−Only Scenario", "day": 40, "lo": 0.0082, "hi": 0.0096}, {"scenario": "Vaccine−Only Scenario", "day": 50, "lo": 0.0016, "hi": 0.0024}, {"scenario": "Vaccine−Only Scenario", "day": 60, "lo": 0.0002, "hi": 0.0008}, {"scenario": "Vaccine−Only Scenario", "day": 70, "lo": 0, "hi": 0.0002}, {"scenario": "Vaccine−Only Scenario", "day": 80, "lo": 0, "hi": 0.0001}, {"scenario": "Vaccine−Only Scenario", "day": 90, "lo": 0, "hi": 0.00005}
    ]
  },
  "vconcat": [
    {
      "title": {"text": "A", "dx": -5, "offset": -1},
      "width": 576,
      "height": 290,
      "layer": [
        {
          "data": {"name": "lineA"},
          "mark": {"type": "line", "interpolate": "monotone", "strokeWidth": 1.8, "clip": true},
          "encoding": {
            "x": {"field": "day", "type": "quantitative", "scale": {"domain": [0, 140], "nice": false}, "axis": {"orient": "bottom", "title": "Day", "values": [0, 20, 40, 60, 80, 100, 120, 140]}},
            "y": {"field": "prev", "type": "quantitative", "scale": {"domain": [0, 0.025], "nice": false}, "axis": {"orient": "left", "title": "Infection Prevalence", "format": "~g", "values": [0, 0.005, 0.01, 0.015, 0.02, 0.025]}},
            "color": {"field": "scenario", "type": "nominal", "scale": {"domain": ["Vaccine−Only Scenario", "NPI−Only Scenario", "Combined Scenario"], "range": ["#7f7f7f", "#c8c8c8", "#151515"]}, "legend": {"title": null, "orient": "none", "legendX": 370, "legendY": 20, "padding": 0, "strokeColor": "#333333", "fillColor": "white", "labelFontSize": 15, "labelColor": "#111111", "labelFont": "Liberation Sans", "symbolType": "stroke", "symbolSize": 400, "symbolStrokeWidth": 2, "rowPadding": -3, "labelOffset": 1, "symbolOpacity": 1}},
            "strokeDash": {"field": "scenario", "type": "nominal", "scale": {"domain": ["Vaccine−Only Scenario", "NPI−Only Scenario", "Combined Scenario"], "range": [[4, 3], [4, 3], [1, 0]]}}
          }
        },
        {
          "data": {"name": "barA"},
          "mark": {"type": "rule", "strokeWidth": 1, "opacity": 0.6, "clip": true},
          "encoding": {
            "x": {"field": "day", "type": "quantitative", "axis": null},
            "y": {"field": "lo", "type": "quantitative", "axis": null},
            "y2": {"field": "hi"},
            "color": {"field": "scenario", "type": "nominal"}
          }
        },
        {
          "data": {"name": "barA"},
          "mark": {"type": "tick", "orient": "horizontal", "size": 33, "thickness": 2.5, "clip": true},
          "encoding": {
            "x": {"field": "day", "type": "quantitative", "axis": {"orient": "top", "labels": false, "title": null, "values": [0, 20, 40, 60, 80, 100, 120, 140]}},
            "y": {"field": "hi", "type": "quantitative", "axis": {"orient": "right", "labels": false, "title": null, "values": [0, 0.005, 0.01, 0.015, 0.02, 0.025]}},
            "color": {"field": "scenario", "type": "nominal"}
          }
        },
        {
          "data": {"name": "barA"},
          "mark": {"type": "tick", "orient": "horizontal", "size": 33, "thickness": 2.5, "clip": true},
          "encoding": {
            "x": {"field": "day", "type": "quantitative", "axis": null},
            "y": {"field": "lo", "type": "quantitative", "axis": null},
            "color": {"field": "scenario", "type": "nominal"}
          }
        }
      ]
    },
    {
      "title": {"text": "B", "dx": -5, "offset": 2},
      "width": 576,
      "height": 289,
      "layer": [
        {
          "data": {"name": "lineB"},
          "mark": {"type": "line", "interpolate": "monotone", "strokeWidth": 1.8, "clip": true},
          "encoding": {
            "x": {"field": "day", "type": "quantitative", "scale": {"domain": [0, 140], "nice": false}, "axis": {"orient": "bottom", "title": "Day", "values": [0, 20, 40, 60, 80, 100, 120, 140]}},
            "y": {"field": "prev", "type": "quantitative", "scale": {"domain": [0, 0.045], "nice": false}, "axis": {"orient": "left", "title": "Infection Prevalence", "format": "~g", "values": [0, 0.005, 0.01, 0.015, 0.02, 0.025, 0.03, 0.035, 0.04, 0.045]}},
            "color": {"field": "scenario", "type": "nominal", "scale": {"domain": ["Vaccine−Only Scenario", "NPI−Only Scenario", "Combined Scenario"], "range": ["#7f7f7f", "#c8c8c8", "#151515"]}, "legend": null},
            "strokeDash": {"field": "scenario", "type": "nominal", "scale": {"domain": ["Vaccine−Only Scenario", "NPI−Only Scenario", "Combined Scenario"], "range": [[4, 3], [4, 3], [1, 0]]}, "legend": null}
          }
        },
        {
          "data": {"name": "barB"},
          "mark": {"type": "rule", "strokeWidth": 1, "opacity": 0.6, "clip": true},
          "encoding": {
            "x": {"field": "day", "type": "quantitative", "axis": null},
            "y": {"field": "lo", "type": "quantitative", "axis": null},
            "y2": {"field": "hi"},
            "color": {"field": "scenario", "type": "nominal", "legend": null}
          }
        },
        {
          "data": {"name": "barB"},
          "mark": {"type": "tick", "orient": "horizontal", "size": 33, "thickness": 2.5, "clip": true},
          "encoding": {
            "x": {"field": "day", "type": "quantitative", "axis": {"orient": "top", "labels": false, "title": null, "values": [0, 20, 40, 60, 80, 100, 120, 140]}},
            "y": {"field": "hi", "type": "quantitative", "axis": {"orient": "right", "labels": false, "title": null, "values": [0, 0.005, 0.01, 0.015, 0.02, 0.025, 0.03, 0.035, 0.04, 0.045]}},
            "color": {"field": "scenario", "type": "nominal", "legend": null}
          }
        },
        {
          "data": {"name": "barB"},
          "mark": {"type": "tick", "orient": "horizontal", "size": 33, "thickness": 2.5, "clip": true},
          "encoding": {
            "x": {"field": "day", "type": "quantitative", "axis": null},
            "y": {"field": "lo", "type": "quantitative", "axis": null},
            "color": {"field": "scenario", "type": "nominal", "legend": null}
          }
        }
      ]
    },
    {
      "title": {"text": "C", "dx": -5, "offset": 7},
      "width": 576,
      "height": 286,
      "layer": [
        {
          "data": {"name": "lineC"},
          "mark": {"type": "line", "interpolate": "monotone", "strokeWidth": 1.8, "clip": true},
          "encoding": {
            "x": {"field": "day", "type": "quantitative", "scale": {"domain": [0, 100], "nice": false}, "axis": {"orient": "bottom", "title": "Day", "values": [0, 10, 20, 30, 40, 50, 60, 70, 80, 90, 100]}},
            "y": {"field": "prev", "type": "quantitative", "scale": {"domain": [0, 0.07], "nice": false}, "axis": {"orient": "left", "title": "Infection Prevalence", "format": "~g", "values": [0, 0.01, 0.02, 0.03, 0.04, 0.05, 0.06, 0.07]}},
            "color": {"field": "scenario", "type": "nominal", "scale": {"domain": ["Vaccine−Only Scenario", "NPI−Only Scenario", "Combined Scenario"], "range": ["#7f7f7f", "#c8c8c8", "#151515"]}, "legend": null},
            "strokeDash": {"field": "scenario", "type": "nominal", "scale": {"domain": ["Vaccine−Only Scenario", "NPI−Only Scenario", "Combined Scenario"], "range": [[4, 3], [4, 3], [1, 0]]}, "legend": null}
          }
        },
        {
          "data": {"name": "barC"},
          "mark": {"type": "rule", "strokeWidth": 1, "opacity": 0.6, "clip": true},
          "encoding": {
            "x": {"field": "day", "type": "quantitative", "axis": null},
            "y": {"field": "lo", "type": "quantitative", "axis": null},
            "y2": {"field": "hi"},
            "color": {"field": "scenario", "type": "nominal", "legend": null}
          }
        },
        {
          "data": {"name": "barC"},
          "mark": {"type": "tick", "orient": "horizontal", "size": 46, "thickness": 2.5, "clip": true},
          "encoding": {
            "x": {"field": "day", "type": "quantitative", "axis": {"orient": "top", "labels": false, "title": null, "values": [0, 10, 20, 30, 40, 50, 60, 70, 80, 90, 100]}},
            "y": {"field": "hi", "type": "quantitative", "axis": {"orient": "right", "labels": false, "title": null, "values": [0, 0.01, 0.02, 0.03, 0.04, 0.05, 0.06, 0.07]}},
            "color": {"field": "scenario", "type": "nominal", "legend": null}
          }
        },
        {
          "data": {"name": "barC"},
          "mark": {"type": "tick", "orient": "horizontal", "size": 46, "thickness": 2.5, "clip": true},
          "encoding": {
            "x": {"field": "day", "type": "quantitative", "axis": null},
            "y": {"field": "lo", "type": "quantitative", "axis": null},
            "color": {"field": "scenario", "type": "nominal", "legend": null}
          }
        }
      ]
    }
  ]
}
